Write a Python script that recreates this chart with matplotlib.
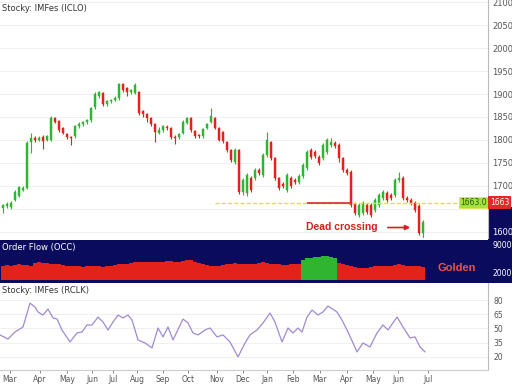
import matplotlib
matplotlib.use("Agg")
import matplotlib.pyplot as plt
import matplotlib.transforms as mtransforms
from matplotlib.patches import Rectangle
from matplotlib.ticker import FuncFormatter

# price candles
opens = [1652, 1656, 1654, 1669, 1678, 1691, 1695, 1795, 1804, 1800,
         1806, 1800, 1800, 1847, 1841, 1826, 1813, 1806, 1808, 1830,
         1834, 1839, 1843, 1871, 1895, 1902, 1878, 1884, 1887, 1891,
         1921, 1913, 1904, 1902, 1904, 1863, 1856, 1847, 1834, 1815,
         1821, 1828, 1826, 1806, 1806, 1815, 1837, 1847, 1819, 1810,
         1808, 1826, 1839, 1847, 1826, 1817, 1795, 1778, 1752, 1778,
         1687, 1684, 1717, 1717, 1734, 1724, 1767, 1795, 1760, 1717,
         1704, 1691, 1717, 1713, 1708, 1721, 1739, 1778, 1774, 1763,
         1760, 1774, 1789, 1793, 1789, 1760, 1734, 1730, 1660, 1637,
         1641, 1658, 1658, 1647, 1658, 1674, 1684, 1680, 1680, 1713,
         1717, 1674, 1669, 1663, 1656, 1597]
closes = [1658, 1660, 1663, 1687, 1697, 1695, 1793, 1804, 1800, 1804,
          1797, 1808, 1847, 1839, 1821, 1815, 1806, 1804, 1830, 1834,
          1839, 1843, 1869, 1900, 1904, 1878, 1884, 1887, 1891, 1921,
          1908, 1904, 1908, 1919, 1858, 1856, 1847, 1834, 1817, 1821,
          1830, 1826, 1806, 1804, 1813, 1839, 1847, 1821, 1808, 1808,
          1824, 1834, 1852, 1826, 1800, 1797, 1778, 1756, 1778, 1687,
          1713, 1724, 1691, 1734, 1728, 1767, 1800, 1760, 1717, 1695,
          1700, 1724, 1700, 1708, 1721, 1745, 1774, 1763, 1765, 1750,
          1789, 1800, 1795, 1787, 1760, 1734, 1728, 1658, 1641, 1658,
          1663, 1643, 1637, 1669, 1680, 1687, 1669, 1674, 1713, 1717,
          1674, 1669, 1663, 1647, 1597, 1621]
highs = [1661, 1664, 1666, 1690, 1700, 1699, 1797, 1814, 1808, 1809,
         1810, 1811, 1852, 1851, 1844, 1829, 1816, 1808, 1833, 1838,
         1842, 1846, 1872, 1904, 1907, 1905, 1887, 1890, 1895, 1925,
         1924, 1916, 1912, 1923, 1907, 1866, 1859, 1850, 1837, 1828,
         1833, 1832, 1829, 1810, 1816, 1843, 1851, 1850, 1822, 1813,
         1827, 1837, 1869, 1850, 1829, 1820, 1798, 1781, 1782, 1781,
         1717, 1728, 1721, 1738, 1738, 1771, 1817, 1798, 1763, 1720,
         1708, 1728, 1721, 1717, 1725, 1749, 1778, 1782, 1778, 1767,
         1793, 1804, 1804, 1797, 1793, 1763, 1738, 1734, 1664, 1662,
         1667, 1662, 1662, 1673, 1684, 1691, 1688, 1684, 1717, 1730,
         1721, 1678, 1673, 1667, 1660, 1625]
lows = [1640, 1652, 1650, 1666, 1675, 1688, 1692, 1772, 1796, 1797,
        1780, 1797, 1797, 1836, 1818, 1812, 1802, 1788, 1805, 1827,
        1831, 1835, 1840, 1868, 1892, 1875, 1875, 1881, 1884, 1888,
        1905, 1896, 1900, 1899, 1855, 1850, 1840, 1831, 1795, 1812,
        1818, 1822, 1802, 1792, 1802, 1812, 1834, 1818, 1804, 1804,
        1805, 1823, 1836, 1823, 1797, 1793, 1774, 1752, 1748, 1683,
        1680, 1678, 1686, 1713, 1724, 1720, 1763, 1756, 1713, 1691,
        1695, 1687, 1696, 1704, 1704, 1717, 1735, 1759, 1761, 1745,
        1756, 1770, 1785, 1783, 1752, 1730, 1724, 1654, 1636, 1633,
        1637, 1639, 1633, 1643, 1654, 1670, 1665, 1670, 1676, 1709,
        1670, 1665, 1659, 1643, 1593, 1585]

# order flow histogram (thousands)
volumes = [3.6, 3.75, 3.5, 3.7, 3.9, 3.8, 3.65, 3.5,
           4.25, 4.4, 4.3, 4.2, 4.1, 4.0, 3.9,
           3.75, 3.6, 3.5, 3.6, 3.4, 3.3, 3.5, 3.6,
           3.5, 3.4, 3.3, 3.4, 3.6, 3.75, 3.9, 4.0, 4.1, 4.25,
           4.4, 4.5, 4.5, 4.6, 4.5, 4.4, 4.5, 4.6, 4.75, 4.65, 4.5, 4.6, 4.75, 4.9, 5.0,
           4.5, 4.25, 4.0, 3.75, 3.6, 3.5, 3.6, 3.75,
           4.0, 4.1, 4.25, 4.1, 4.0, 3.9, 4.0, 4.1, 4.25, 4.4, 4.25,
           4.1, 4.0, 3.9, 3.8, 3.75, 3.9, 4.0, 4.1,
           5.0, 5.5, 5.6, 5.75, 5.75, 5.9, 6.0, 5.75, 5.5,
           4.25, 4.0, 3.75, 3.5, 3.25, 3.1, 3.0, 3.1, 3.25, 3.4, 3.5,
           3.6, 3.5, 3.6, 3.75, 3.9, 3.75, 3.6, 3.5, 3.6, 3.4, 3.25]
golden_start, golden_end = 75, 83

# oscillator line
osc_pos = [-0.75, 1.25, 3, 4.25, 5, 6.75, 8, 8.75, 10, 11.25, 12.5, 13.5,
           14.75, 16.75, 18.5, 19.75, 21, 22.25, 23.75, 25, 26.25, 27.5,
           28.75, 30, 31.25, 32.25, 33.75, 35.5, 37.25, 38.75, 40, 41.25,
           42.5, 45, 46.25, 47.5, 48.75, 50.5, 51.75, 53.5, 55, 56.75,
           58.75, 60.5, 61.75, 63.5, 65, 66.75, 68, 69.75, 71.25, 72.5,
           73.75, 74.75, 76, 77.25, 78.75, 80, 81.25, 83.5, 84.75, 86.25,
           88.5, 90, 91.75, 93.5, 95, 96.25, 98.5, 100, 101.75, 103,
           104.25, 105.5]
osc_val = [43.2, 38.9, 46.3, 49.5, 51.6, 76.8, 72.6, 67.4, 64.2, 70.5, 61.1, 60.0,
           48.4, 35.8, 45.3, 46.3, 53.7, 53.7, 62.1, 56.8, 48.4, 56.8,
           64.2, 61.1, 64.2, 58.9, 37.9, 34.7, 29.5, 50.5, 41.1, 51.6,
           37.9, 60.0, 55.8, 45.3, 43.2, 48.4, 50.5, 41.1, 43.2, 35.8,
           20.0, 34.7, 43.2, 48.4, 55.8, 66.3, 56.8, 35.8, 50.5, 45.3,
           50.5, 46.3, 62.1, 69.5, 64.2, 67.4, 73.7, 67.4, 58.9, 46.3,
           25.3, 34.7, 30.5, 45.3, 53.7, 48.4, 62.1, 51.6, 40.0, 41.1,
           30.5, 25.3]

price_ticks = [2100, 2050, 2000, 1950, 1900, 1850, 1800, 1750, 1700, 1650, 1600]
level_price = 1663
level_start = 53
cross_start, cross_end = 76, 87.25
month_pos = [1.75, 9.25, 16, 22.25, 27.5, 33.5, 40, 46.25, 53.5, 60, 66,
             72.5, 79.25, 86, 92.5, 98.75, 106.25]
month_labels = ["Mar", "Apr", "May", "Jun", "Jul", "Aug", "Sep", "Oct", "Nov",
                "Dec", "Jan", "Feb", "Mar", "Apr", "May", "Jun", "Jul"]
osc_ticks = [80, 65, 50, 35, 20]
flow_ticks = [2.0, 9.0]

up_col = "#2fb52f"
down_col = "#e3221c"
navy = "#0b0b5e"
xlim = (-0.75, 121.25)

fig = plt.figure(figsize=(5.12, 3.84), dpi=100)
fig.patch.set_facecolor("white")
right = 488 / 512

ax1 = fig.add_axes([0, 0.380, right, 0.620])
ax2 = fig.add_axes([0, 0.263, right, 0.112])
ax3 = fig.add_axes([0, 0.036, right, 0.227])

# navy strip behind right labels
fig.add_artist(Rectangle((right, 0.263), 1 - right, 0.198, transform=fig.transFigure,
                         facecolor=navy, edgecolor="none", zorder=-1))

# --- candles
idx = list(range(len(opens)))
for i in idx:
    o, c = opens[i], closes[i]
    col = up_col if c >= o else down_col
    ax1.vlines(i, lows[i], highs[i], color=col, linewidth=0.8, zorder=2)
    ax1.bar(i, max(abs(c - o), 1.5), bottom=min(o, c), width=0.72,
            color=col, edgecolor=col, linewidth=0.3, zorder=3)

ax1.set_xlim(*xlim)
ax1.set_ylim(1586, 2105)
ax1.set_xticks([])
ax1.yaxis.tick_right()
ax1.set_yticks(price_ticks)
ax1.tick_params(axis="y", length=0, labelsize=6, colors="#555555", pad=3)
for t, lab in zip(price_ticks, ax1.get_yticklabels()):
    if t == 1650:
        lab.set_visible(False)
    if t == 1600:
        lab.set_color("white")
ax1.grid(axis="y", color="#eeeeee", linewidth=0.6, zorder=0)
for s in ["left", "top", "bottom"]:
    ax1.spines[s].set_visible(False)
ax1.spines["right"].set_color("#bbbbbb")

ax1.hlines(level_price, level_start, xlim[1], colors="#e8e800",
           linestyles=(0, (3, 1.5)), linewidth=1.0, zorder=4)
ax1.hlines(level_price, cross_start, cross_end, colors="#d42a2a", linewidth=1.2, zorder=4)

trans = mtransforms.blended_transform_factory(ax1.transAxes, ax1.transData)
ax1.text(0.998, level_price, "1663.0", transform=trans, ha="right", va="center",
         fontsize=5.5, color="#1d5a00", zorder=6,
         bbox=dict(boxstyle="square,pad=0.15", facecolor="#a6e23a", edgecolor="#e0e040", linewidth=0.5))
ax1.text(1.004, level_price, "1663", transform=trans, ha="left", va="center",
         fontsize=5.5, color="white", zorder=6, clip_on=False,
         bbox=dict(boxstyle="square,pad=0.25", facecolor="#e02a2a", edgecolor="none"))

ax1.text(84.75, 1611, "Dead crossing", ha="center", va="center", fontsize=7.5,
         fontweight="bold", color="#d42020", family="Liberation Sans", zorder=6)
ax1.annotate("", xy=(102.5, 1609), xytext=(95.5, 1609),
             arrowprops=dict(arrowstyle="-|>", color="#d42020", lw=1.2,
                             mutation_scale=7), zorder=6)
ax1.text(0.004, 0.985, "Stocky: IMFes (ICLO)", transform=ax1.transAxes, ha="left",
         va="top", fontsize=6, color="#333333")

# --- order flow histogram
vol_colors = [up_col if golden_start <= i <= golden_end else down_col for i in idx]
ax2.set_facecolor(navy)
ax2.bar(idx, volumes, width=0.8, color=vol_colors, linewidth=0)
ax2.set_xlim(*xlim)
ax2.set_ylim(-0.75, 10)
ax2.set_xticks([])
ax2.yaxis.tick_right()
ax2.set_yticks(flow_ticks)
ax2.yaxis.set_major_formatter(FuncFormatter(lambda v, p: "%d" % (v * 1000)))
ax2.tick_params(axis="y", length=0, labelsize=5.5, colors="white", pad=3)
for s in ax2.spines.values():
    s.set_visible(False)
ax2.text(113.5, 3.0, "Golden", ha="center", va="center", fontsize=8,
         fontweight="bold", color="#f05048", family="Liberation Sans")
ax2.text(0.004, 0.93, "Order Flow (OCC)", transform=ax2.transAxes, ha="left",
         va="top", fontsize=6, color="white")

# --- oscillator
ax3.plot(osc_pos, osc_val, color="#a08ad0", linewidth=0.9)
ax3.set_xlim(*xlim)
ax3.set_ylim(6, 98)
ax3.yaxis.tick_right()
ax3.set_yticks(osc_ticks)
ax3.tick_params(axis="y", length=0, labelsize=5.5, colors="#555555", pad=4)
ax3.set_xticks(month_pos)
ax3.set_xticklabels(month_labels)
ax3.tick_params(axis="x", length=2, labelsize=5.5, colors="#555555", pad=1.5, width=0.5)
ax3.grid(axis="y", color="#eeeeee", linewidth=0.6)
ax3.spines["left"].set_visible(False)
ax3.spines["top"].set_visible(False)
ax3.spines["right"].set_color("#bbbbbb")
ax3.spines["bottom"].set_color("#cccccc")
ax3.text(0.004, 0.97, "Stocky: IMFes (RCLK)", transform=ax3.transAxes, ha="left",
         va="top", fontsize=6, color="#333333")

fig.savefig("out.png", dpi=100)
